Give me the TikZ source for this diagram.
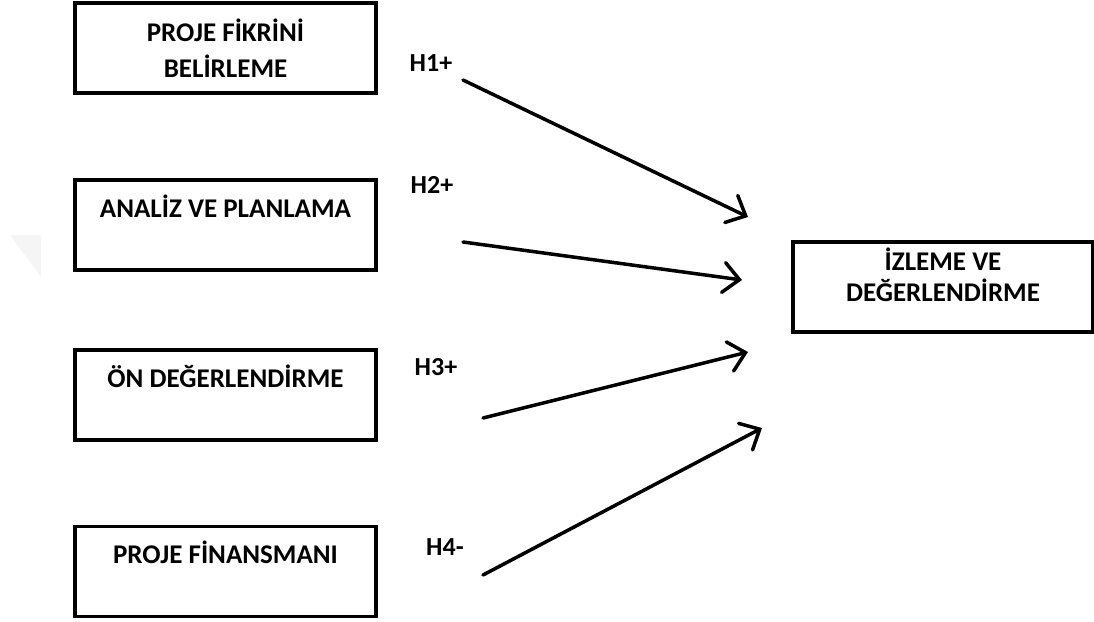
\documentclass[tikz,border=0pt]{standalone}
\usepackage{fontspec}
\setmainfont{Carlito}
\usepackage{tikz}
\usetikzlibrary{positioning,arrows.meta}

\begin{document}
\begin{tikzpicture}[x=1pt,y=-1pt,font=\fontsize{27}{36}\selectfont\bfseries,
    box/.style={draw,line width=3.5pt,minimum width=301pt,minimum height=90pt,align=center,inner sep=0pt},
    hyp/.style={inner sep=0pt,font=\fontsize{26}{28}\selectfont\bfseries},
    link/.style={line width=3.5pt,line cap=round,-{Straight Barb[length=16pt,width=30pt,line cap=round]}}]
    \useasboundingbox (0,0) rectangle (1094,621);
    \fill[gray!8] (10,235) -- (41,235) -- (41,277) -- cycle;
    \node[box] (Fikir) at (225.5,48) {PROJE FİKRİNİ\\BELİRLEME};
    \node[box,below of=Fikir,node distance=177pt] (Analiz) {ANALİZ VE PLANLAMA\\[-9pt] \strut};
    \node[box,below of=Analiz,node distance=170pt] (OnDeger) {ÖN DEĞERLENDİRME\\[-9pt] \strut};
    \node[box,below of=OnDeger,node distance=176.5pt] (Finans) {PROJE FİNANSMANI\\[-9pt] \strut};
    \node[box,minimum width=300pt] (Izleme) at (943,287) {İZLEME VE\\[-5pt]DEĞERLENDİRME\\[-22pt] \strut};
    \node[hyp] (H1) at (431,63) {H1+};
    \node[hyp] (H2) at (432,185) {H2+};
    \node[hyp] (H3) at (436,367) {H3+};
    \node[hyp] (H4) at (445,547) {H4-};
    \coordinate (s1) at (463,80);
    \coordinate (t1) at (748,217);
    \coordinate (s2) at (463,242);
    \coordinate (t2) at (742,280);
    \coordinate (s3) at (483,418);
    \coordinate (t3) at (748,352);
    \coordinate (s4) at (483,575);
    \coordinate (t4) at (762,428);
    \draw[link] (s1) -- (t1);
    \draw[link] (s2) -- (t2);
    \draw[link] (s3) -- (t3);
    \draw[link] (s4) -- (t4);
\end{tikzpicture}
\end{document}
